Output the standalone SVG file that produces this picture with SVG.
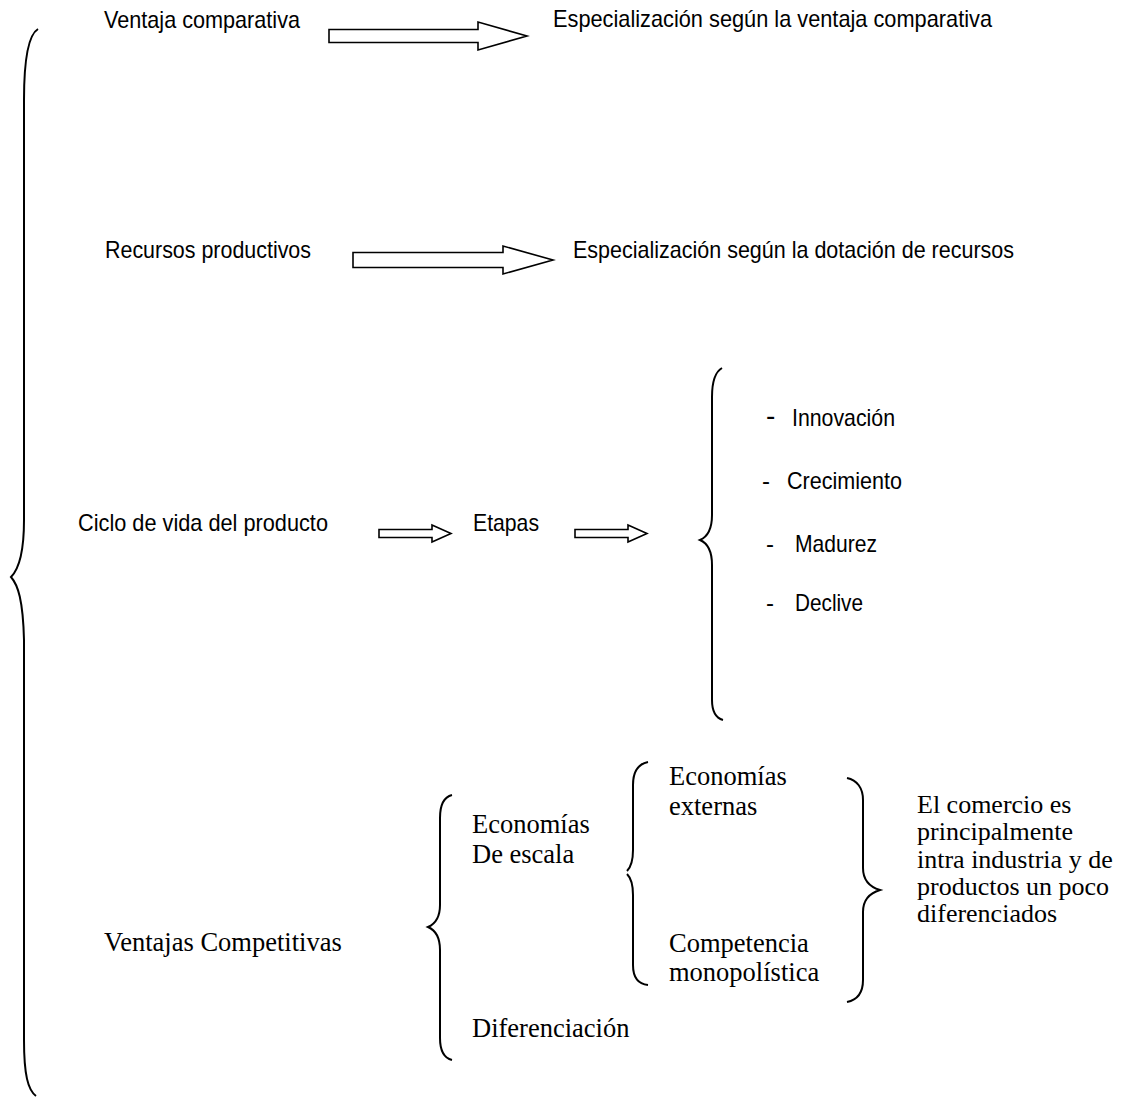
<svg xmlns="http://www.w3.org/2000/svg" width="1124" height="1097" viewBox="0 0 1124 1097">
<style>
.a{font-family:"Liberation Sans",Arial,sans-serif;font-size:24px;fill:#000}
.t{font-family:"Liberation Serif","Times New Roman",serif;font-size:26.5px;fill:#000}
.br{fill:none;stroke:#000;stroke-width:2}
.ar{fill:#fff;stroke:#000;stroke-width:1.6;stroke-linejoin:miter}
</style>
<rect width="1124" height="1097" fill="#fff"/>
<g id="connectors">
<path class="br" d="M38,29 C28,35 24,60 24,100 L24,520 C24,555 18,570 11,577 C18,585 23,600 24,640 L24,1040 C24,1075 28,1090 36,1096"/>
<path class="ar" d="M329,29.5 H478 V22 L527,36 L478,50 V42.5 H329 Z"/>
<path class="ar" d="M353,252.5 H503 V246 L553,260 L503,274 V267.5 H353 Z"/>
<path class="ar" d="M379,529.5 H432 V525 L451,533.5 L432,542 V537.5 H379 Z"/>
<path class="ar" d="M575,529.5 H628 V525 L647,533.5 L628,542 V537.5 H575 Z"/>
<path class="br" d="M722,368 C715,372 712,382 712,397 L712,515 C712,530 707,537 700,540 C707,543 712,550 712,565 L712,700 C712,712 716,718 723,720"/>
<path class="br" d="M452,795 C444,797 440,805 440,818 L440,905 C440,917 435,924 428,927 C435,930 440,937 440,950 L440,1038 C440,1051 444,1058 452,1060"/>
<path class="br" d="M648,762 C638,764 633,772 633,785 L633,850 C633,861 631,867 627,871"/>
<path class="br" d="M627,874 C631,878 633,884 633,895 L633,965 C633,978 638,984 648,985"/>
<path class="br" d="M847,778 C857,780 863,788 863,800 L863,868 C863,880 870,887 880,890 C870,893 863,900 863,912 L863,980 C863,993 857,1000 847,1002"/>
</g>
<g id="n-ventaja"><text class="a" x="104" y="28" textLength="196" lengthAdjust="spacingAndGlyphs">Ventaja comparativa</text></g>
<g id="n-esp1"><text class="a" x="553" y="27" textLength="439" lengthAdjust="spacingAndGlyphs">Especialización según la ventaja comparativa</text></g>
<g id="n-recursos"><text class="a" x="105" y="258" textLength="206" lengthAdjust="spacingAndGlyphs">Recursos productivos</text></g>
<g id="n-esp2"><text class="a" x="573" y="258" textLength="441" lengthAdjust="spacingAndGlyphs">Especialización según la dotación de recursos</text></g>
<g id="n-ciclo"><text class="a" x="78" y="531" textLength="250" lengthAdjust="spacingAndGlyphs">Ciclo de vida del producto</text></g>
<g id="n-etapas"><text class="a" x="473" y="531" textLength="66" lengthAdjust="spacingAndGlyphs">Etapas</text></g>
<g id="n-innovacion"><text class="a" x="766" y="425" style="font-size:28px">-</text><text class="a" x="792" y="426" textLength="103" lengthAdjust="spacingAndGlyphs">Innovación</text></g>
<g id="n-crecimiento"><text class="a" x="762" y="489">-</text><text class="a" x="787" y="489" textLength="115" lengthAdjust="spacingAndGlyphs">Crecimiento</text></g>
<g id="n-madurez"><text class="a" x="766" y="552">-</text><text class="a" x="795" y="552" textLength="82" lengthAdjust="spacingAndGlyphs">Madurez</text></g>
<g id="n-declive"><text class="a" x="766" y="611">-</text><text class="a" x="795" y="611" textLength="68" lengthAdjust="spacingAndGlyphs">Declive</text></g>
<g id="n-ventajas-comp"><text class="t" x="104" y="951">Ventajas Competitivas</text></g>
<g id="n-econ-escala"><text class="t" x="472" y="833">Economías<tspan x="472" y="863">De escala</tspan></text></g>
<g id="n-diferenciacion"><text class="t" x="472" y="1037">Diferenciación</text></g>
<g id="n-econ-ext"><text class="t" x="669" y="785">Economías<tspan x="669" y="815">externas</tspan></text></g>
<g id="n-competencia"><text class="t" x="669" y="952">Competencia<tspan x="669" y="981">monopolística</tspan></text></g>
<g id="n-comercio"><text class="t" x="917" y="813" style="font-size:26px">El comercio es<tspan x="917" y="840">principalmente</tspan><tspan x="917" y="868">intra industria y de</tspan><tspan x="917" y="895">productos un poco</tspan><tspan x="917" y="922">diferenciados</tspan></text></g>
</svg>
